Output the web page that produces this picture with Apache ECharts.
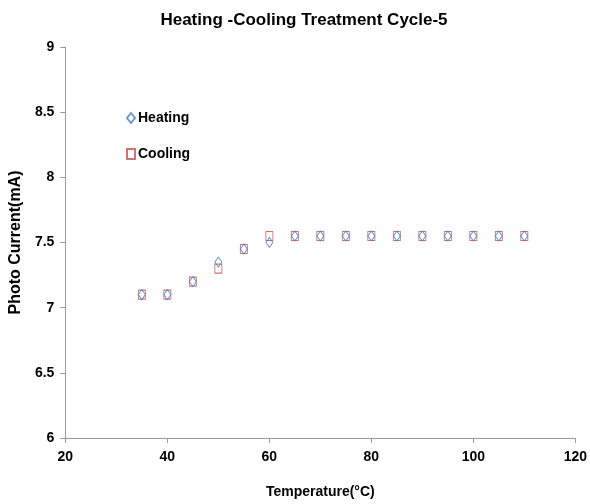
<!DOCTYPE html>
<html><head><meta charset="utf-8">
<script src="https://cdn.jsdelivr.net/npm/echarts@6/dist/echarts.min.js"></script>
<style>html,body{margin:0;padding:0;background:#fff}#c{width:590px;height:504px}</style>
</head><body><div id="c"></div>
<script>
var temperatures = [35, 40, 45, 50, 55, 60, 65, 70, 75, 80, 85, 90, 95, 100, 105, 110];
var heatingValues = [7.1, 7.1, 7.2, 7.35, 7.45, 7.5, 7.55, 7.55, 7.55, 7.55, 7.55, 7.55, 7.55, 7.55, 7.55, 7.55];
var coolingValues = [7.1, 7.1, 7.2, 7.3, 7.45, 7.55, 7.55, 7.55, 7.55, 7.55, 7.55, 7.55, 7.55, 7.55, 7.55, 7.55];
var titleText = 'Heating -Cooling Treatment Cycle-5';
var xName = 'Temperature(°C)';
var yName = 'Photo Current(mA)';

function pairs(xs, ys) { return xs.map(function (x, i) { return [x, ys[i]]; }); }

var font = 'Liberation Sans, Arial, sans-serif';
var chart = echarts.init(document.getElementById('c'), null, {renderer: 'canvas'});
chart.setOption({
  animation: false,
  backgroundColor: '#fff',
  title: {
    text: titleText, left: 299, top: 7, textAlign: 'center',
    textStyle: {fontFamily: font, fontWeight: 'bold', fontSize: 17, color: '#000'}
  },
  legend: {
    orient: 'vertical', left: 121, top: 106, itemGap: 22, itemWidth: 8, itemHeight: 10,
    textStyle: {fontFamily: font, fontWeight: 'bold', fontSize: 14, color: '#000', padding: [0,0,0,-2]},
    data: [{name: 'Heating', icon: 'diamond'}, {name: 'Cooling', icon: 'rect'}]
  },
  grid: {left: 64, right: 9, top: 47, bottom: 65, containLabel: false},
  xAxis: {
    type: 'value', min: 20, max: 120, interval: 20,
    name: xName, nameLocation: 'middle', nameGap: 47,
    nameTextStyle: {fontFamily: font, fontWeight: 'bold', fontSize: 14, color: '#000'},
    axisLine: {show: true, lineStyle: {color: '#999', width: 1}},
    axisTick: {show: true, inside: false, length: 5, lineStyle: {color: '#999'}},
    axisLabel: {fontFamily: font, fontWeight: 'bold', fontSize: 14, color: '#000', margin: 12},
    splitLine: {show: false}
  },
  yAxis: {
    type: 'value', min: 6, max: 9, interval: 0.5,
    name: yName, nameLocation: 'middle', nameGap: 40, nameRotate: 90,
    nameTextStyle: {fontFamily: font, fontWeight: 'bold', fontSize: 16, color: '#000'},
    axisLine: {show: true, lineStyle: {color: '#999', width: 1}},
    axisTick: {show: true, inside: false, length: 5, lineStyle: {color: '#999'}},
    axisLabel: {fontFamily: font, fontWeight: 'bold', fontSize: 14, color: '#000', margin: 11},
    splitLine: {show: false}
  },
  series: [
    {
      name: 'Cooling', type: 'scatter', symbol: 'rect', symbolSize: [7, 9],
      itemStyle: {color: 'rgba(255,255,255,0)', borderColor: '#c0504d', borderWidth: 1},
      data: pairs(temperatures, coolingValues)
    },
    {
      name: 'Heating', type: 'scatter', symbol: 'diamond', symbolSize: [7, 10],
      itemStyle: {color: 'rgba(255,255,255,0)', borderColor: '#4a7ebb', borderWidth: 1},
      data: pairs(temperatures, heatingValues)
    }
  ]
});
</script></body></html>
